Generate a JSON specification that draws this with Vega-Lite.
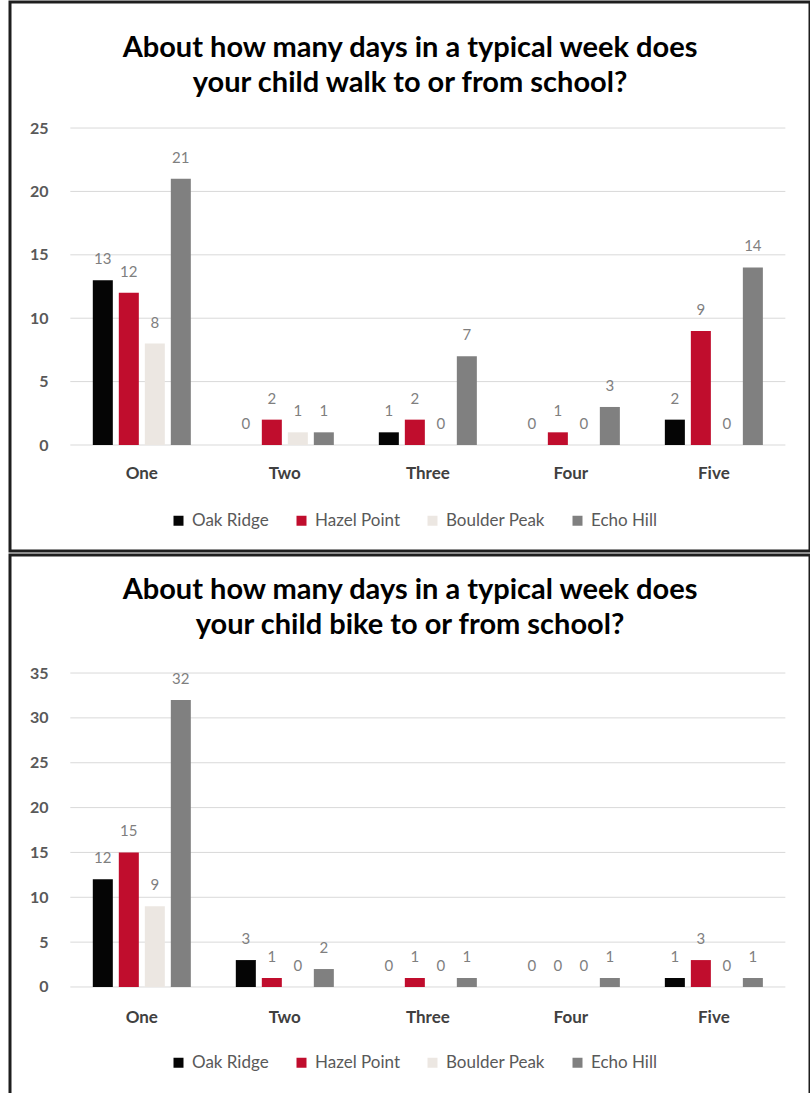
{
  "$schema": "https://vega.github.io/schema/vega-lite/v6.json",
  "padding": {"left": 8, "top": 0, "right": 2, "bottom": 0},
  "background": "white",
  "spacing": 0,
  "config": {
    "font": "Lato",
    "view": {"stroke": "#1e1e1e", "strokeWidth": 3},
    "title": {"font": "Lato", "fontSize": 29, "fontWeight": "bold", "color": "#000000", "lineHeight": 35, "anchor": "middle", "frame": "group"}
  },
  "datasets": {
    "walk": [
      {"day": "One", "school": "Oak Ridge", "count": 13},
      {"day": "One", "school": "Hazel Point", "count": 12},
      {"day": "One", "school": "Boulder Peak", "count": 8},
      {"day": "One", "school": "Echo Hill", "count": 21},
      {"day": "Two", "school": "Oak Ridge", "count": 0},
      {"day": "Two", "school": "Hazel Point", "count": 2},
      {"day": "Two", "school": "Boulder Peak", "count": 1},
      {"day": "Two", "school": "Echo Hill", "count": 1},
      {"day": "Three", "school": "Oak Ridge", "count": 1},
      {"day": "Three", "school": "Hazel Point", "count": 2},
      {"day": "Three", "school": "Boulder Peak", "count": 0},
      {"day": "Three", "school": "Echo Hill", "count": 7},
      {"day": "Four", "school": "Oak Ridge", "count": 0},
      {"day": "Four", "school": "Hazel Point", "count": 1},
      {"day": "Four", "school": "Boulder Peak", "count": 0},
      {"day": "Four", "school": "Echo Hill", "count": 3},
      {"day": "Five", "school": "Oak Ridge", "count": 2},
      {"day": "Five", "school": "Hazel Point", "count": 9},
      {"day": "Five", "school": "Boulder Peak", "count": 0},
      {"day": "Five", "school": "Echo Hill", "count": 14}
    ],
    "bike": [
      {"day": "One", "school": "Oak Ridge", "count": 12},
      {"day": "One", "school": "Hazel Point", "count": 15},
      {"day": "One", "school": "Boulder Peak", "count": 9},
      {"day": "One", "school": "Echo Hill", "count": 32},
      {"day": "Two", "school": "Oak Ridge", "count": 3},
      {"day": "Two", "school": "Hazel Point", "count": 1},
      {"day": "Two", "school": "Boulder Peak", "count": 0},
      {"day": "Two", "school": "Echo Hill", "count": 2},
      {"day": "Three", "school": "Oak Ridge", "count": 0},
      {"day": "Three", "school": "Hazel Point", "count": 1},
      {"day": "Three", "school": "Boulder Peak", "count": 0},
      {"day": "Three", "school": "Echo Hill", "count": 1},
      {"day": "Four", "school": "Oak Ridge", "count": 0},
      {"day": "Four", "school": "Hazel Point", "count": 0},
      {"day": "Four", "school": "Boulder Peak", "count": 0},
      {"day": "Four", "school": "Echo Hill", "count": 1},
      {"day": "Five", "school": "Oak Ridge", "count": 1},
      {"day": "Five", "school": "Hazel Point", "count": 3},
      {"day": "Five", "school": "Boulder Peak", "count": 0},
      {"day": "Five", "school": "Echo Hill", "count": 1}
    ],
    "walkTicks": [{"v": 0}, {"v": 5}, {"v": 10}, {"v": 15}, {"v": 20}, {"v": 25}],
    "bikeTicks": [{"v": 0}, {"v": 5}, {"v": 10}, {"v": 15}, {"v": 20}, {"v": 25}, {"v": 30}, {"v": 35}]
  },
  "vconcat": [
    {
      "width": 800,
      "height": 549,
      "title": {"text": ["About how many days in a typical week does", "your child walk to or from school?"], "offset": -96},
      "encoding": {
        "x": {"field": "day", "type": "nominal", "sort": ["One", "Two", "Three", "Four", "Five"],
          "scale": {"paddingInner": 0, "paddingOuter": 0.297, "align": 0.71},
          "axis": {"orient": "bottom", "offset": -86, "title": null, "labelAngle": 0, "domain": false, "ticks": false, "tickSize": 0, "grid": false, "labelPadding": 0, "labelBaseline": "top", "labelFontSize": 17, "labelFontWeight": "bold", "labelColor": "#404040", "labelFont": "Lato"}}
      },
      "layer": [
        {
          "data": {"name": "walkTicks"},
          "mark": {"type": "rule", "color": "#d9d9d9", "strokeWidth": 1},
          "encoding": {
            "y": {"field": "v", "type": "quantitative", "scale": {"domain": [-8.36, 34.94], "nice": false, "zero": false},
              "axis": {"orient": "left", "offset": -38, "values": [0, 5, 10, 15, 20, 25], "title": null, "domain": false, "ticks": false, "tickSize": 0, "grid": false, "labelPadding": 0, "labelFontSize": 16, "labelFontWeight": "bold", "labelColor": "#595959", "labelFont": "Lato"}},
            "x": {"datum": "One", "bandPosition": 0},
            "x2": {"datum": "Five", "bandPosition": 1}
          }
        },
        {
          "data": {"name": "walk"},
          "mark": {"type": "bar"},
          "encoding": {
            "xOffset": {"field": "school", "type": "nominal", "sort": ["Oak Ridge", "Hazel Point", "Boulder Peak", "Echo Hill"], "scale": {"paddingInner": 0.23, "paddingOuter": 0.865}},
            "y": {"field": "count", "type": "quantitative"},
            "y2": {"datum": 0},
            "color": {"field": "school", "type": "nominal", "sort": ["Oak Ridge", "Hazel Point", "Boulder Peak", "Echo Hill"],
              "scale": {"domain": ["Oak Ridge", "Hazel Point", "Boulder Peak", "Echo Hill"], "range": ["#050505", "#c00d2d", "#ece7e2", "#808080"]},
              "legend": {"title": null, "orient": "none", "legendX": 160, "legendY": 510, "direction": "horizontal", "symbolType": "square", "symbolSize": 100, "symbolStrokeWidth": 0, "labelFontSize": 17, "labelColor": "#595959", "labelFont": "Lato", "columnPadding": 24, "labelOffset": 5}}
          }
        },
        {
          "data": {"name": "walk"},
          "mark": {"type": "text", "baseline": "middle", "dy": -21, "fontSize": 15, "color": "#7f7f7f", "font": "Lato"},
          "encoding": {
            "xOffset": {"field": "school", "type": "nominal", "sort": ["Oak Ridge", "Hazel Point", "Boulder Peak", "Echo Hill"]},
            "y": {"field": "count", "type": "quantitative"},
            "text": {"field": "count", "type": "quantitative"}
          }
        }
      ]
    },
    {
      "width": 800,
      "height": 545,
      "title": {"text": ["About how many days in a typical week does", "your child bike to or from school?"], "offset": -85},
      "encoding": {
        "x": {"field": "day", "type": "nominal", "sort": ["One", "Two", "Three", "Four", "Five"],
          "scale": {"paddingInner": 0, "paddingOuter": 0.297, "align": 0.71},
          "axis": {"orient": "bottom", "offset": -91, "title": null, "labelAngle": 0, "domain": false, "ticks": false, "tickSize": 0, "grid": false, "labelPadding": 0, "labelBaseline": "top", "labelFontSize": 17, "labelFontWeight": "bold", "labelColor": "#404040", "labelFont": "Lato"}}
      },
      "layer": [
        {
          "data": {"name": "bikeTicks"},
          "mark": {"type": "rule", "color": "#d9d9d9", "strokeWidth": 1},
          "encoding": {
            "y": {"field": "v", "type": "quantitative", "scale": {"domain": [-12.6, 48.16], "nice": false, "zero": false},
              "axis": {"orient": "left", "offset": -38, "values": [0, 5, 10, 15, 20, 25, 30, 35], "title": null, "domain": false, "ticks": false, "tickSize": 0, "grid": false, "labelPadding": 0, "labelFontSize": 16, "labelFontWeight": "bold", "labelColor": "#595959", "labelFont": "Lato"}},
            "x": {"datum": "One", "bandPosition": 0},
            "x2": {"datum": "Five", "bandPosition": 1}
          }
        },
        {
          "data": {"name": "bike"},
          "mark": {"type": "bar"},
          "encoding": {
            "xOffset": {"field": "school", "type": "nominal", "sort": ["Oak Ridge", "Hazel Point", "Boulder Peak", "Echo Hill"], "scale": {"paddingInner": 0.23, "paddingOuter": 0.865}},
            "y": {"field": "count", "type": "quantitative"},
            "y2": {"datum": 0},
            "color": {"field": "school", "type": "nominal", "sort": ["Oak Ridge", "Hazel Point", "Boulder Peak", "Echo Hill"],
              "scale": {"domain": ["Oak Ridge", "Hazel Point", "Boulder Peak", "Echo Hill"], "range": ["#050505", "#c00d2d", "#ece7e2", "#808080"]},
              "legend": {"title": null, "orient": "none", "legendX": 160, "legendY": 499, "direction": "horizontal", "symbolType": "square", "symbolSize": 100, "symbolStrokeWidth": 0, "labelFontSize": 17, "labelColor": "#595959", "labelFont": "Lato", "columnPadding": 24, "labelOffset": 5}}
          }
        },
        {
          "data": {"name": "bike"},
          "mark": {"type": "text", "baseline": "middle", "dy": -21, "fontSize": 15, "color": "#7f7f7f", "font": "Lato"},
          "encoding": {
            "xOffset": {"field": "school", "type": "nominal", "sort": ["Oak Ridge", "Hazel Point", "Boulder Peak", "Echo Hill"]},
            "y": {"field": "count", "type": "quantitative"},
            "text": {"field": "count", "type": "quantitative"}
          }
        }
      ]
    }
  ],
  "resolve": {"scale": {"color": "independent"}, "legend": {"color": "independent"}}
}
